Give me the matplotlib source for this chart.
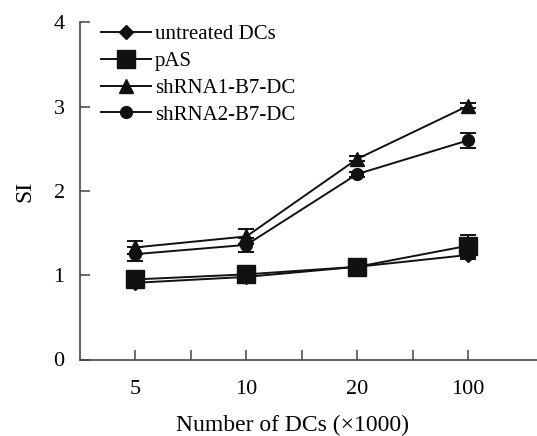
import matplotlib.pyplot as plt
import numpy as np

plt.rcParams['font.family'] = ['Liberation Serif', 'DejaVu Serif']

categories = ['5', '10', '20', '100']
untreated = [0.91, 0.98, 1.10, 1.24]
untreated_err = [0.03, 0.03, 0.02, 0.05]
pas = [0.95, 1.01, 1.10, 1.35]
pas_err = [0.03, 0.03, 0.02, 0.13]
shrna1 = [1.33, 1.46, 2.38, 3.01]
shrna1_err = [0.08, 0.09, 0.03, 0.03]
shrna2 = [1.25, 1.36, 2.20, 2.60]
shrna2_err = [0.08, 0.08, 0.03, 0.09]

x = np.arange(len(categories))

fig = plt.figure(figsize=(5.37, 4.36), dpi=100)
ax = fig.add_axes([80/537, 1 - 359.5/436, 1 - 80/537, (359.5 - 22.3)/436])

series = [
    (untreated, untreated_err, 'D', 7, 'untreated DCs'),
    (pas, pas_err, 's', 12.5, 'pAS'),
    (shrna1, shrna1_err, '^', 9.5, 'shRNA1-B7-DC'),
    (shrna2, shrna2_err, 'o', 8.5, 'shRNA2-B7-DC'),
]
for vals, err, mk, ms, lab in series:
    ax.errorbar(x, vals, yerr=err, color='#111111', marker=mk, markersize=ms,
                linewidth=1.4, capsize=5.5, capthick=1.4, elinewidth=1.4, label=lab)

ax.set_xlim(-0.5, 3.62)
ax.set_ylim(0, 4)
ax.set_xticks(x)
ax.set_xticklabels(categories)
ax.set_xticks([0.5, 1.5, 2.5], minor=True)
ax.set_yticks([0, 1, 2, 3, 4])
ax.spines['top'].set_visible(False)
ax.spines['right'].set_visible(False)
for s in ['left', 'bottom']:
    ax.spines[s].set_color('#444444')
    ax.spines[s].set_linewidth(1.2)
ax.tick_params(which='both', direction='in', length=7, width=1.1, color='#444444',
               labelsize=16)
ax.tick_params(axis='x', pad=15)
ax.tick_params(axis='y', pad=11)

ax.set_xlabel('Number of DCs (\u00d71000)', fontsize=17, labelpad=11)
ax.xaxis.label.set_x((292 - 80) / 457)
ax.set_ylabel('SI', fontsize=17, labelpad=13)

handles, labels = ax.get_legend_handles_labels()
handles = [h[0] for h in handles]
ax.legend(handles, labels, loc='upper left', bbox_to_anchor=(0.004, 1.049), frameon=False,
          fontsize=15, handlelength=2.4, handletextpad=0.2, labelspacing=0.35)

fig.savefig('out.png', dpi=100)
